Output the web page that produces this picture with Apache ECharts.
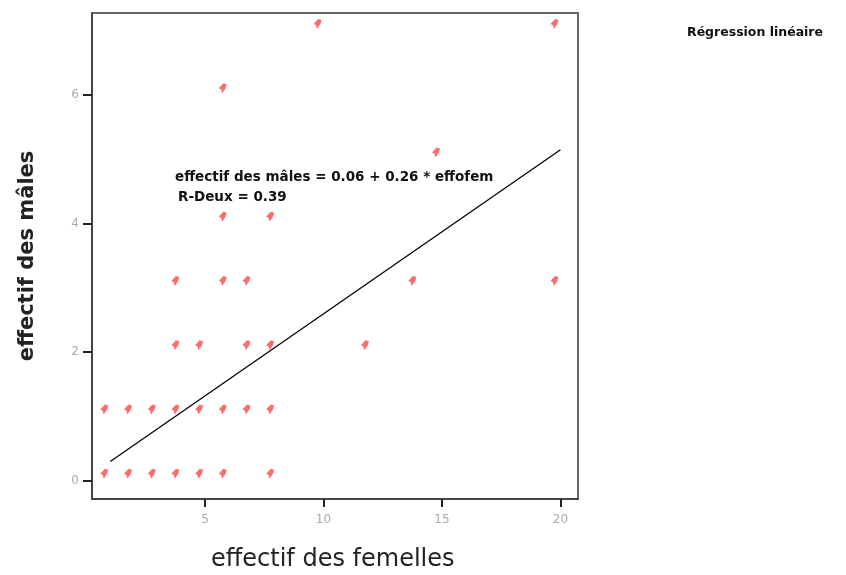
<!DOCTYPE html>
<html>
<head>
<meta charset="utf-8">
<script src="https://cdn.jsdelivr.net/npm/echarts@6/dist/echarts.min.js"></script>
<style>html,body{margin:0;padding:0;background:#fff;}#c{width:846px;height:575px;}</style>
</head>
<body>
<div id="c"></div>
<script>
// effectif des femelles (x) and effectif des mâles (y)
var femelles = [1,2,3,4,5,6,8, 1,2,3,4,5,6,7,8, 4,5,7,8,12, 4,6,7,14,20, 6,8, 15, 6, 10,20];
var males    = [0,0,0,0,0,0,0, 1,1,1,1,1,1,1,1, 2,2,2,2,2,  3,3,3,3,3,  4,4, 5,  6, 7,7];
// regression line endpoints
var lineX = [1, 20];
var lineY = [0.3, 5.15];
var xTicks = [5, 10, 15, 20];
var yTicks = [0, 2, 4, 6];

var pts = femelles.map(function(v, i){ return [v, males[i]]; });
var linePts = lineX.map(function(v, i){ return [v, lineY[i]]; });

var chart = echarts.init(document.getElementById('c'), null, {renderer:'canvas'});
var FONT = 'DejaVu Sans';
chart.setOption({
  animation: false,
  backgroundColor: '#fff',
  grid: {left: 92, top: 13, right: 268, bottom: 76, show: true, borderColor: '#666', borderWidth: 2, backgroundColor: 'transparent'},
  xAxis: {
    type: 'value', min: 0.23, max: 20.74, interval: 5,
    axisLine: {show: true, onZero: false, lineStyle: {color: '#444', width: 2}},
    axisTick: {show: true, length: 8, lineStyle: {color: '#222', width: 2}, customValues: xTicks},
    axisLabel: {color: '#aaa', fontSize: 12, fontFamily: FONT, margin: 15, customValues: xTicks},
    splitLine: {show: false}
  },
  yAxis: {
    type: 'value', min: -0.285, max: 7.28, interval: 2,
    axisLine: {show: true, onZero: false, lineStyle: {color: '#444', width: 2}},
    axisTick: {show: true, length: 9, lineStyle: {color: '#222', width: 2}, customValues: yTicks},
    axisLabel: {color: '#aaa', fontSize: 12, fontFamily: FONT, margin: 13, customValues: yTicks},
    splitLine: {show: false}
  },
  series: [
    {
      type: 'scatter', data: pts,
      symbol: 'path://M4,0 L7,1 L6,5 L3,10 L2,6 L0,5 Z',
      symbolSize: [8, 10], symbolOffset: [-6, -7],
      itemStyle: {color: 'rgba(255,40,40,0.85)'},
      z: 3
    },
    {
      type: 'line', data: linePts, showSymbol: false, symbol: 'none',
      lineStyle: {color: '#000', width: 1.3},
      z: 4
    }
  ],
  graphic: [
    {type: 'text', left: 175, top: 170, style: {text: 'effectif des mâles = 0.06 + 0.26 * effofem', font: 'bold 13.5px "DejaVu Sans"', fill: '#111'}},
    {type: 'text', left: 178, top: 190, style: {text: 'R-Deux = 0.39', font: 'bold 13.5px "DejaVu Sans"', fill: '#111'}},
    {type: 'text', left: 687, top: 26, style: {text: 'Régression linéaire', font: 'bold 12.5px "DejaVu Sans"', fill: '#111'}},
    {type: 'text', left: 211, top: 548, style: {text: 'effectif des femelles', font: '24px "DejaVu Sans"', fill: '#222'}},
    {type: 'text', x: 28, y: 256, rotation: Math.PI/2, style: {text: 'effectif des mâles', font: 'bold 21px "DejaVu Sans"', fill: '#222', align: 'center', verticalAlign: 'middle'}}
  ]
});
</script>
</body>
</html>
